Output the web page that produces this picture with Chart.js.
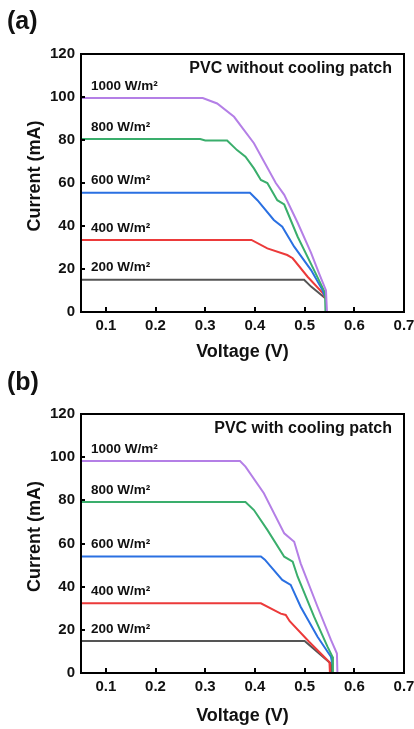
<!DOCTYPE html>
<html>
<head>
<meta charset="utf-8">
<script src="https://cdn.jsdelivr.net/npm/chart.js@4.4.1/dist/chart.umd.min.js"></script>
<style>
  html, body { margin: 0; padding: 0; background: #fff; }
  canvas { display: block; }
</style>
</head>
<body>
<canvas id="graficoA" width="414" height="362"></canvas>
<canvas id="graficoB" width="414" height="367"></canvas>
<script>
// eixos
const xTicks = [0.1, 0.2, 0.3, 0.4, 0.5, 0.6, 0.7];
const xTickLabels = ['0.1', '0.2', '0.3', '0.4', '0.5', '0.6', '0.7'];
const yTicks = [0, 20, 40, 60, 80, 100, 120];
const irradiancias = ['1000 W/m²', '800 W/m²', '600 W/m²', '400 W/m²', '200 W/m²'];

// (a) sem patch de resfriamento
const vA1000 = [0.05, 0.295, 0.324, 0.358, 0.398, 0.442, 0.459, 0.486, 0.513, 0.529, 0.543, 0.545];
const iA1000 = [99.5, 99.5, 97, 90.8, 78.5, 60, 54.5, 41.5, 27.5, 18, 10, 0];
const vA800 = [0.05, 0.29, 0.30, 0.344, 0.364, 0.381, 0.398, 0.412, 0.425, 0.445, 0.459, 0.486, 0.519, 0.541, 0.542];
const iA800 = [80.5, 80.5, 79.8, 79.8, 75.3, 72.2, 66.8, 61.4, 60, 52, 50, 35, 19.5, 9, 0];
const vA600 = [0.05, 0.39, 0.405, 0.438, 0.455, 0.479, 0.513, 0.536, 0.541];
const iA600 = [55.5, 55.5, 52, 42.8, 39.7, 30.4, 19.5, 10.2, 7];
const vA400 = [0.05, 0.393, 0.425, 0.465, 0.476, 0.506, 0.537, 0.541];
const iA400 = [33.5, 33.5, 29.6, 26.5, 25, 16.4, 8.7, 6.5];
const vA200 = [0.05, 0.499, 0.513, 0.541];
const iA200 = [15, 15, 11.8, 6.5];

// (b) com patch de resfriamento
const vB1000 = [0.05, 0.37, 0.381, 0.418, 0.459, 0.479, 0.492, 0.526, 0.553, 0.565, 0.566];
const iB1000 = [98.2, 98.2, 95.6, 83.3, 64.7, 60.8, 50.8, 30.7, 15.3, 9, 0];
const vB800 = [0.05, 0.381, 0.398, 0.425, 0.459, 0.476, 0.486, 0.519, 0.546, 0.556, 0.557];
const iB800 = [79.2, 79.2, 75.5, 66.3, 53.9, 51.6, 44.6, 26.1, 12.2, 7.5, 0];
const vB600 = [0.05, 0.412, 0.42, 0.432, 0.455, 0.472, 0.492, 0.526, 0.553, 0.556];
const iB600 = [54, 54, 52.5, 49.3, 43.1, 40.8, 30.7, 16.8, 7.5, 4];
const vB400 = [0.05, 0.412, 0.452, 0.462, 0.47, 0.509, 0.55, 0.551];
const iB400 = [32.3, 32.3, 27.5, 26.9, 24, 14.5, 5, 0];
const vB200 = [0.05, 0.5, 0.552, 0.553];
const iB200 = [14.8, 14.8, 4.5, 0];

const cores = ['#b47fe6', '#3aae6c', '#2a70e2', '#ec3a3a', '#555555'];
const fonte = '"Liberation Sans", Arial, sans-serif';

function pontos(vs, is) {
    return vs.map((v, k) => ({ x: v, y: is[k] }));
}

const moldura = {
    id: 'moldura',
    afterDraw(chart, args, opts) {
        const ctx = chart.ctx;
        const a = chart.chartArea;
        const x = chart.scales.x, y = chart.scales.y;
        ctx.save();
        ctx.strokeStyle = '#000';
        ctx.lineWidth = 2;
        ctx.beginPath();
        xTicks.forEach(v => {
            const px = Math.round(x.getPixelForValue(v));
            ctx.moveTo(px, a.bottom); ctx.lineTo(px, a.bottom - 5);
        });
        yTicks.forEach(v => {
            const py = Math.round(y.getPixelForValue(v));
            ctx.moveTo(a.left, py); ctx.lineTo(a.left + 4, py);
        });
        ctx.stroke();
        ctx.strokeRect(a.left, a.top, a.right - a.left, a.bottom - a.top);

        // rótulos das curvas
        ctx.fillStyle = '#111';
        ctx.font = 'bold 13.5px ' + fonte;
        ctx.textAlign = 'left';
        ctx.textBaseline = 'middle';
        chart.data.datasets.forEach(ds => {
            const py = y.getPixelForValue(ds.data[0].y) - 12;
            ctx.fillText(ds.label, a.left + 10, py);
        });

        ctx.font = 'bold 16px ' + fonte;
        ctx.textAlign = 'right';
        ctx.fillText(opts.titulo, a.right - 12, a.top + 15);

        ctx.font = 'bold 25px ' + fonte;
        ctx.textAlign = 'left';
        ctx.fillText(opts.letra, 7, opts.letraY);

        // título do eixo y
        ctx.translate(35, (a.top + a.bottom) / 2 - 7);
        ctx.rotate(-Math.PI / 2);
        ctx.textAlign = 'center';
        ctx.font = 'bold 18px ' + fonte;
        ctx.fillText('Current (mA)', 0, 0);
        ctx.restore();
    }
};

function criarGrafico(idCanvas, series, titulo, letra, cfg) {
    const grafico = document.getElementById(idCanvas).getContext('2d');
    return new Chart(grafico, {
        type: 'scatter',
        data: {
            datasets: series.map((s, k) => ({
                label: irradiancias[k],
                data: pontos(s[0], s[1]),
                showLine: true,
                borderColor: cores[k],
                backgroundColor: cores[k],
                borderWidth: 2,
                pointRadius: 0,
                tension: 0
            }))
        },
        options: {
            responsive: false,
            animation: false,
            devicePixelRatio: 1,
            layout: { padding: { top: cfg.topo, right: 10, left: 0, bottom: 0 } },
            plugins: {
                legend: { display: false },
                tooltip: { enabled: false },
                moldura: { titulo: titulo, letra: letra, letraY: cfg.letraY }
            },
            scales: {
                x: {
                    type: 'linear',
                    min: 0.05,
                    max: 0.7,
                    grid: { display: false, drawTicks: false },
                    border: { display: false },
                    afterBuildTicks: s => { s.ticks = xTicks.map(v => ({ value: v })); },
                    afterFit: s => { s.height = cfg.alturaX; s.paddingLeft = 0; s.paddingRight = 0; },
                    ticks: {
                        color: '#111',
                        padding: 5,
                        maxRotation: 0,
                        font: { family: fonte, size: 15, weight: 'bold' },
                        callback: (v, i) => xTickLabels[i]
                    },
                    title: {
                        display: true,
                        text: 'Voltage (V)',
                        color: '#111',
                        padding: { top: 0, bottom: cfg.padTituloX },
                        font: { family: fonte, size: 18, weight: 'bold', lineHeight: 1 }
                    }
                },
                y: {
                    min: 0,
                    max: 120,
                    grid: { display: false, drawTicks: false },
                    border: { display: false },
                    afterBuildTicks: s => { s.ticks = yTicks.map(v => ({ value: v })); },
                    afterFit: s => { s.width = 81; s.paddingTop = 0; s.paddingBottom = 0; },
                    ticks: {
                        color: '#111',
                        padding: 6,
                        font: { family: fonte, size: 15, weight: 'bold' }
                    }
                }
            }
        },
        plugins: [moldura]
    });
}

criarGrafico('graficoA',
    [[vA1000, iA1000], [vA800, iA800], [vA600, iA600], [vA400, iA400], [vA200, iA200]],
    'PVC without cooling patch', '(a)',
    { topo: 54, alturaX: 50, padTituloX: 1, letraY: 22 });

criarGrafico('graficoB',
    [[vB1000, iB1000], [vB800, iB800], [vB600, iB600], [vB400, iB400], [vB200, iB200]],
    'PVC with cooling patch', '(b)',
    { topo: 52, alturaX: 56, padTituloX: 4, letraY: 21 });
</script>
</body>
</html>
